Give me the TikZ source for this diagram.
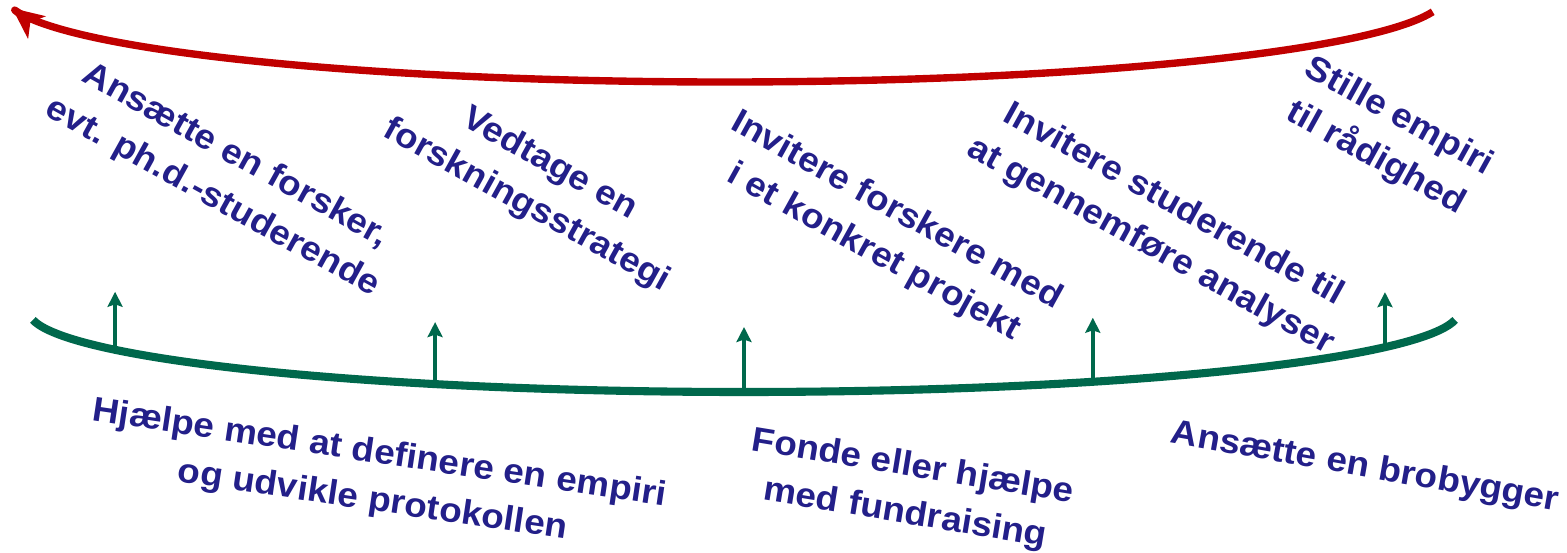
\documentclass[tikz,border=0pt]{standalone}
\usepackage{fontspec}
\setmainfont{Liberation Sans}[FakeStretch=1.07]
\usetikzlibrary{arrows.meta}
\definecolor{lblue}{RGB}{35,31,137}
\definecolor{lgreen}{RGB}{0,104,76}
\definecolor{lred}{RGB}{192,0,0}
\tikzset{
	lab/.style={text=lblue,font=\bfseries\fontsize{19.6}{27}\selectfont,align=center,inner sep=0pt},
	up/.style={draw=lgreen,line width=2.3pt,-{Stealth[length=0.3cm,width=0.3cm,inset=0.05cm]}},
}
\begin{document}
\begin{tikzpicture}[x=0.02cm,y=-0.02cm,line join=round]
		\useasboundingbox (0,0) rectangle (1567,552);
		\draw[lred,line width=4.2pt,-{Stealth[length=0.62cm,width=0.56cm,inset=0.16cm]},smooth,samples=100]
		plot[domain=10.6:171.9]({725+720*cos(\x)},{-4+86*sin(\x)});
		\foreach \t/\h [count=\i] in {151.6/58,115.6/62,90/65,60.8/64,26.3/55}
		\path ({744+715*cos(\t)},{311.5+80.5*sin(\t)}) coordinate (base\i) ++(0,-\h) coordinate (tip\i);
		\foreach \i in {1,...,5} \draw[up] (base\i) -- (tip\i);
		\draw[lgreen,line width=4.6pt,smooth,samples=100]
		plot[domain=6:174]({744+715*cos(\x)},{311.5+80.5*sin(\x)});
		\node[lab,rotate=-29] (ansaette) at (224,177) {Ansætte en forsker,\\evt. ph.d.-studerende};
		\node[lab,rotate=-29] (vedtage) at (538,185) {Vedtage en\\forskningsstrategi};
		\node[lab,rotate=-29] (forskere) at (885,232) {Invitere forskere med\\i et konkret projekt};
		\node[lab,rotate=-29] (studerende) at (1162,226) {Invitere studerende til\\at gennemføre analyser};
		\node[lab,rotate=-29] (empiri) at (1387,138) {Stille empiri\\til rådighed};
		\node[lab,rotate=-8.5] (hjaelpe) at (376,478) {Hjælpe med at definere en empiri\\og udvikle protokollen};
		\node[lab,rotate=-9.3] (fonde) at (909,491) {Fonde eller hjælpe\\med fundraising};
		\node[lab,rotate=-10] (brobygger) at (1365,468) {Ansætte en brobygger};
\end{tikzpicture}
\end{document}
